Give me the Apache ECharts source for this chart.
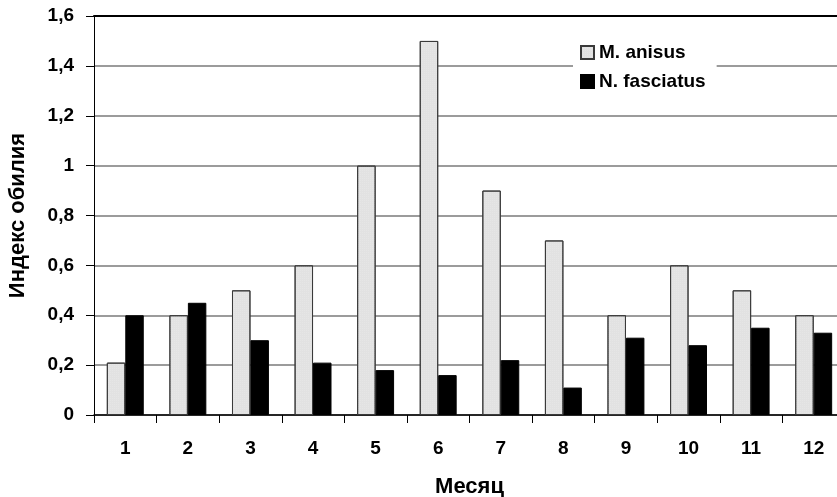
<!DOCTYPE html>
<html>
<head>
<meta charset="utf-8">
<script src="https://cdn.jsdelivr.net/npm/echarts@6/dist/echarts.min.js"></script>
<style>
html,body{margin:0;padding:0;background:#fff;}
#chart{width:837px;height:497px;}
</style>
</head>
<body>
<div id="chart"></div>
<script>
const months = ['1','2','3','4','5','6','7','8','9','10','11','12'];
const seriesNames = ['M. anisus', 'N. fasciatus'];
const anisus = [0.21, 0.4, 0.5, 0.6, 1.0, 1.5, 0.9, 0.7, 0.4, 0.6, 0.5, 0.4];
const fasciatus = [0.4, 0.45, 0.3, 0.21, 0.18, 0.16, 0.22, 0.11, 0.31, 0.28, 0.35, 0.33];
const yTicks = [0, 0.2, 0.4, 0.6, 0.8, 1.0, 1.2, 1.4, 1.6];

const FONT = '"Liberation Sans", Arial, sans-serif';
const chart = echarts.init(document.getElementById('chart'), null, {renderer: 'canvas'});
chart.setOption({
  animation: false,
  backgroundColor: '#fff',
  textStyle: {fontFamily: FONT},
  grid: {left: 94, top: 16, width: 751, height: 399, outerBoundsMode: 'none', containLabel: false},
  legend: {
    orient: 'vertical',
    left: 573, top: 35,
    padding: [8, 11, 8, 7],
    backgroundColor: '#fff',
    itemWidth: 13, itemHeight: 13, itemGap: 10,
    icon: 'rect',
    textStyle: {fontFamily: FONT, fontWeight: 'bold', fontSize: 19, color: '#000', lineHeight: 15},
    data: seriesNames
  },
  xAxis: [{
    type: 'category',
    data: months,
    position: 'bottom',
    name: 'Месяц',
    nameLocation: 'middle',
    nameGap: 61,
    nameTextStyle: {fontFamily: FONT, fontWeight: 'bold', fontSize: 22, color: '#000'},
    axisLine: {show: true, lineStyle: {color: '#000', width: 1.5}},
    axisTick: {show: true, length: 8, lineStyle: {color: '#000', width: 1}},
    axisLabel: {fontFamily: FONT, fontWeight: 'bold', fontSize: 19, color: '#000', margin: 24},
    splitLine: {show: false}
  }, {
    type: 'category',
    data: months,
    position: 'top',
    axisLine: {show: true, lineStyle: {color: '#000', width: 2}},
    axisTick: {show: false},
    axisLabel: {show: false},
    splitLine: {show: false}
  }],
  yAxis: {
    type: 'value',
    min: 0, max: 1.6, interval: 0.2,
    name: 'Индекс обилия',
    nameLocation: 'middle',
    nameGap: 65,
    nameRotate: 90,
    nameTextStyle: {fontFamily: FONT, fontWeight: 'bold', fontSize: 22, color: '#000'},
    axisLine: {show: true, lineStyle: {color: '#000', width: 1}},
    axisTick: {show: true, length: 8, lineStyle: {color: '#000', width: 1}},
    axisLabel: {
      fontFamily: FONT, fontWeight: 'bold', fontSize: 19, color: '#000', margin: 20,
      formatter: function (v) {
        const t = yTicks.find(x => Math.abs(x - v) < 1e-9);
        if (t === undefined) return '';
        return (Math.round(t * 10) / 10).toString().replace('.', ',');
      }
    },
    splitLine: {show: true, lineStyle: {color: '#7a7a7a', width: 1.5}}
  },
  series: [{
    name: seriesNames[0],
    type: 'bar',
    data: anisus,
    barGap: '0%',
    barCategoryGap: '41%',
    itemStyle: {
      color: '#e2e2e2', borderColor: '#3a3a3a', borderWidth: 1,
      decal: {symbol: 'rect', symbolSize: 0.5, dashArrayX: [1, 1], dashArrayY: [1, 1], color: 'rgba(255,255,255,0.6)', rotation: 0}
    },
    z: 3
  }, {
    name: seriesNames[1],
    type: 'bar',
    data: fasciatus,
    barGap: '0%',
    barCategoryGap: '41%',
    itemStyle: {color: '#000', borderColor: '#000', borderWidth: 1},
    z: 3
  }]
});
</script>
</body>
</html>
